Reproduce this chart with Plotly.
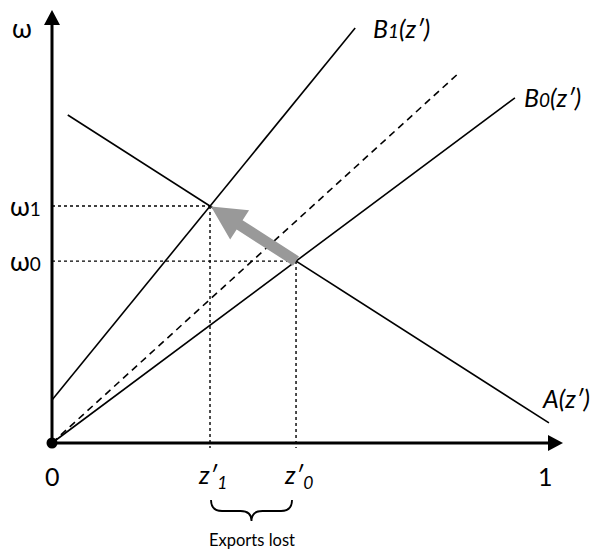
import plotly.graph_objects as go
import numpy as np

# ---------------- data (chart units: z' along x, omega along y) ----------------
z_ticks = [0.0, 0.3205, 0.495, 1.0]
z_tick_labels = ["0", "<i>z′<sub>1</sub></i>", "<i>z′<sub>0</sub></i>", "1"]
w_ticks = [0.369, 0.4807]
w_tick_labels = ["ω<span style='font-size:19px'>0</span>", "ω<span style='font-size:19px'>1</span>"]

A_x = [0.032, 1.008]
A_y = [0.6653, 0.0407]
B0_x = [0.0, 0.939]
B0_y = [0.0, 0.700]
B1_x = [0.0, 0.615]
B1_y = [0.087, 0.842]
dash_x = [0.0, 0.828]
dash_y = [0.0, 0.753]

eq0 = (0.495, 0.369)
eq1 = (0.3205, 0.4807)

curve_labels = ["<i>B<span style='font-size:19px'>1</span>(z′)</i>",
                "<i>B<span style='font-size:19px'>0</span>(z′)</i>",
                "<i>A(z′)</i>"]

# ---------------- geometry helpers ----------------
S = 493.0          # pixels per unit
OX, OY = 52.0, 443.0
W, H = 591, 552

def to_data(px, py):
    return ((px - OX) / S, (OY - py) / S)

def to_px(x, y):
    return (OX + S * x, OY - S * y)

FONT = "Lato, Liberation Sans, sans-serif"
BLACK = "#000000"

fig = go.Figure()

# curves
fig.add_trace(go.Scatter(x=A_x, y=A_y, mode="lines", line=dict(color=BLACK, width=1.6), hoverinfo="skip"))
fig.add_trace(go.Scatter(x=B0_x, y=B0_y, mode="lines", line=dict(color=BLACK, width=1.6), hoverinfo="skip"))
fig.add_trace(go.Scatter(x=B1_x, y=B1_y, mode="lines", line=dict(color=BLACK, width=1.6), hoverinfo="skip"))
fig.add_trace(go.Scatter(x=dash_x, y=dash_y, mode="lines", line=dict(color=BLACK, width=1.6, dash="7px,5px"), hoverinfo="skip"))

# dotted guides
below = -5 / S
for (zx, wy) in [eq0, eq1]:
    fig.add_trace(go.Scatter(x=[0, zx], y=[wy, wy], mode="lines",
                             line=dict(color=BLACK, width=1.4, dash="dot"), hoverinfo="skip"))
    fig.add_trace(go.Scatter(x=[zx, zx], y=[wy, below], mode="lines",
                             line=dict(color=BLACK, width=1.4, dash="dot"), hoverinfo="skip"))

shapes = []

# axes
y_tip = to_data(OX, 10)[1]
x_tip = to_data(563, OY)[0]
head_len = 15 / S
head_half = 8 / S
shapes.append(dict(type="line", x0=0, y0=0, x1=0, y1=y_tip - head_len + 0.002, xref="x", yref="y",
                   line=dict(color=BLACK, width=3)))
shapes.append(dict(type="line", x0=0, y0=0, x1=x_tip - head_len + 0.002, y1=0, xref="x", yref="y",
                   line=dict(color=BLACK, width=3)))
shapes.append(dict(type="path", xref="x", yref="y",
                   path=f"M {-head_half},{y_tip - head_len} L 0,{y_tip} L {head_half},{y_tip - head_len} Z",
                   fillcolor=BLACK, line=dict(color=BLACK, width=0)))
shapes.append(dict(type="path", xref="x", yref="y",
                   path=f"M {x_tip - head_len},{-head_half} L {x_tip},0 L {x_tip - head_len},{head_half} Z",
                   fillcolor=BLACK, line=dict(color=BLACK, width=0)))

# gray arrow from eq0 to eq1
t = np.array(to_px(*eq0))
h = np.array(to_px(*eq1)) + np.array([1.0, 0.5])
u = (h - t) / np.linalg.norm(h - t)
n = np.array([-u[1], u[0]])
hl, hw, sw = 34.0, 17.5, 5.5
b = h - u * hl
pts_px = [t + n * sw, b + n * sw, b + n * hw, h, b - n * hw, b - n * sw, t - n * sw]
pts = [to_data(*p) for p in pts_px]
path = "M " + " L ".join(f"{x},{y}" for x, y in pts) + " Z"
shapes.append(dict(type="path", xref="x", yref="y", path=path,
                   fillcolor="#999999", line=dict(color="#999999", width=0)))

# brace under z'1 .. z'0
xl = to_px(eq1[0], 0)[0] + 1
xr = to_px(eq0[0], 0)[0] - 4
xc = (xl + xr) / 2
yt, ym, yb = 500, 511, 521
def P(px, py):
    x, y = to_data(px, py)
    return f"{x},{y}"
brace = (f"M {P(xl, yt)} Q {P(xl, ym)} {P(xl + 11, ym)} L {P(xc - 11, ym)} "
         f"Q {P(xc, ym)} {P(xc, yb)} Q {P(xc, ym)} {P(xc + 11, ym)} L {P(xr - 11, ym)} "
         f"Q {P(xr, ym)} {P(xr, yt)}")
shapes.append(dict(type="path", xref="x", yref="y", path=brace, line=dict(color=BLACK, width=1.8)))

# origin dot
fig.add_trace(go.Scatter(x=[0], y=[0], mode="markers", marker=dict(color=BLACK, size=11), hoverinfo="skip"))

annotations = []
def label(px, py, text, size=25, xanchor="center"):
    x, y = to_data(px, py)
    annotations.append(dict(x=x, y=y, xref="x", yref="y", text=text, showarrow=False,
                            xanchor=xanchor, yanchor="middle",
                            font=dict(family=FONT, size=size, color=BLACK)))

# y-axis labels
label(22, 28, "ω", size=26)
for wy, txt in zip(w_ticks, w_tick_labels):
    label(43, to_px(0, wy)[1], txt, size=26, xanchor="right")

# x-axis labels
for zx, txt in zip(z_ticks, z_tick_labels):
    off = 0 if zx in (0.0, 1.0) else 2
    label(to_px(zx, 0)[0] + off, 476, txt)

# curve labels
label(401, 28, curve_labels[0])
label(552, 97, curve_labels[1])
label(566, 398, curve_labels[2])

label(xc, 540, "Exports lost", size=16.5)

fig.update_layout(
    width=W, height=H,
    margin=dict(l=0, r=0, t=0, b=0),
    paper_bgcolor="white", plot_bgcolor="white",
    showlegend=False,
    xaxis=dict(range=[to_data(0, 0)[0], to_data(W, 0)[0]], visible=False, fixedrange=True),
    yaxis=dict(range=[to_data(0, H)[1], to_data(0, 0)[1]], visible=False, fixedrange=True),
    shapes=shapes,
    annotations=annotations,
)

fig.write_html("out.html")
